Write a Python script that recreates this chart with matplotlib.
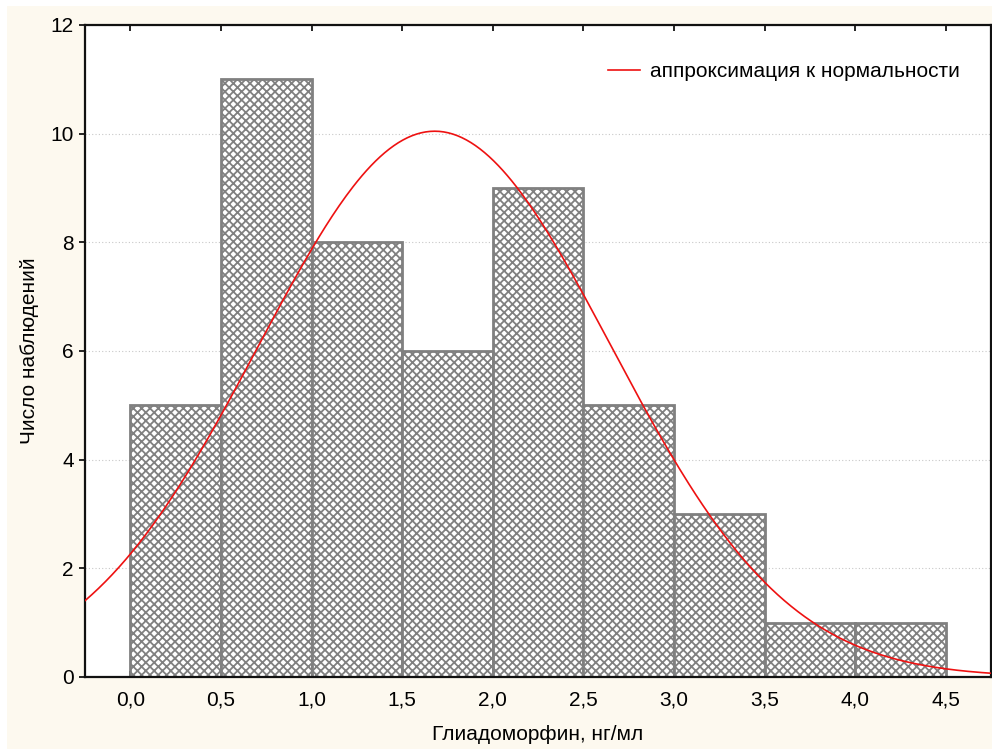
import numpy as np
import matplotlib.pyplot as plt
from matplotlib.patches import Rectangle

plt.rcParams['font.family'] = ['Liberation Sans', 'DejaVu Sans']
plt.rcParams['hatch.color'] = '#808080'
plt.rcParams['hatch.linewidth'] = 1.3

# Histogram of gliadomorphin values
bin_edges = [0.0, 0.5, 1.0, 1.5, 2.0, 2.5, 3.0, 3.5, 4.0, 4.5]
counts = [5, 11, 8, 6, 9, 5, 3, 1, 1]

# Fitted normal approximation
n_obs = 49
fit_mean = 1.68
fit_sd = 0.973

xticks = [0.0, 0.5, 1.0, 1.5, 2.0, 2.5, 3.0, 3.5, 4.0, 4.5]
xtick_labels = ['0,0', '0,5', '1,0', '1,5', '2,0', '2,5', '3,0', '3,5', '4,0', '4,5']
yticks = [0, 2, 4, 6, 8, 10, 12]

fig = plt.figure(figsize=(9.92, 7.49), dpi=100, facecolor='white')
fig.patches.append(Rectangle((7 / 992, 0), 1, 1 - 6 / 749, transform=fig.transFigure,
                             facecolor='#fdf9ef', edgecolor='none', zorder=-10))
ax = fig.add_axes([85 / 992, 1 - 677 / 749, 906 / 992, 652 / 749])
ax.set_facecolor('white')

widths = np.diff(bin_edges)
ax.bar(bin_edges[:-1], counts, width=widths, align='edge', facecolor='white',
       edgecolor='#808080', linewidth=2, hatch='xxxx', zorder=2)

x = np.linspace(-0.25, 4.75, 400)
binw = bin_edges[1] - bin_edges[0]
y = n_obs * binw * np.exp(-0.5 * ((x - fit_mean) / fit_sd) ** 2) / (fit_sd * np.sqrt(2 * np.pi))
ax.plot(x, y, color='#ee1111', linewidth=1.2, zorder=3, label='аппроксимация к нормальности')

ax.set_xlim(-0.25, 4.75)
ax.set_ylim(0, 12)
ax.set_xticks(xticks)
ax.set_xticklabels(xtick_labels)
ax.set_yticks(yticks)
ax.yaxis.grid(True, linestyle=(0, (1, 2)), color='#c8c8c8', linewidth=0.8)
ax.set_axisbelow(True)

ax.tick_params(axis='x', direction='in', top=True, length=4, width=1.2, labelsize=15, pad=10)
ax.tick_params(axis='y', direction='out', right=False, length=4, width=1.2, labelsize=15, pad=4)
for s in ax.spines.values():
    s.set_linewidth(1.6)
    s.set_color('#111111')

ax.set_xlabel('Глиадоморфин, нг/мл', fontsize=15, labelpad=11)
ax.set_ylabel('Число наблюдений', fontsize=15, labelpad=8)

ax.legend(loc='upper right', frameon=False, fontsize=15, handlelength=1.5,
          handletextpad=0.5, borderpad=0, borderaxespad=0,
          bbox_to_anchor=((960 - 85) / 906, (677 - 62) / 652))

fig.savefig('out.png', dpi=100, facecolor=fig.get_facecolor())
